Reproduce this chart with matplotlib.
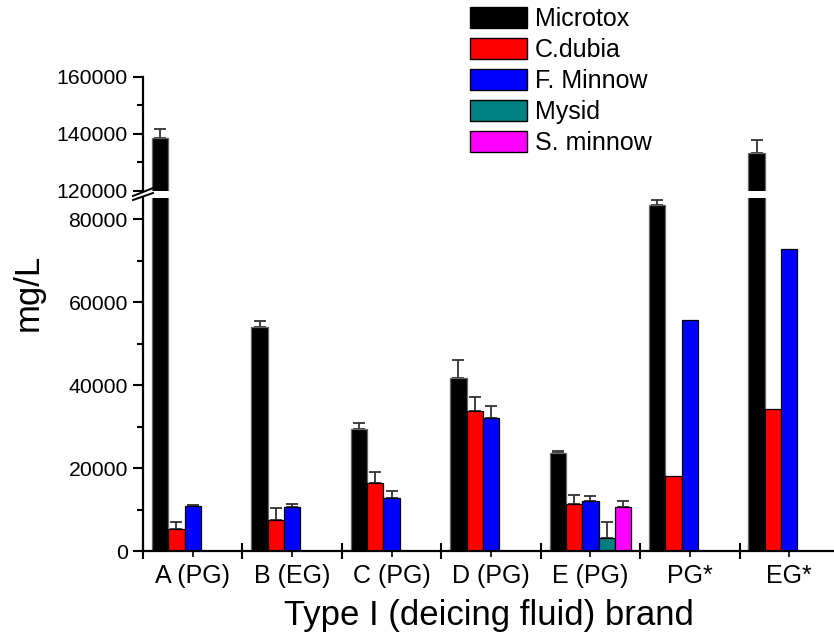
import numpy as np
import matplotlib
matplotlib.use("Agg")
import matplotlib.pyplot as plt
from matplotlib.patches import Patch
from matplotlib.lines import Line2D

plt.rcParams['font.family'] = ['Liberation Sans', 'DejaVu Sans']

nan = np.nan
categories = ['A (PG)', 'B (EG)', 'C (PG)', 'D (PG)', 'E (PG)', 'PG*', 'EG*']
series = ['Microtox', 'C.dubia', 'F. Minnow', 'Mysid', 'S. minnow']
colors = ['black', '#ff0000', '#0000ff', '#008080', '#ff00ff']

microtox = [138400, 54000, 29400, 41700, 23700, 83500, 133200]
microtox_err = [3400, 1400, 1400, 4300, 400, 1150, 4800]
cdubia = [5300, 7500, 16400, 33700, 11250, 18150, 34200]
cdubia_err = [1750, 2950, 2700, 3500, 2250, 0, 0]
fminnow = [10900, 10700, 12850, 32050, 12000, 55700, 72700]
fminnow_err = [250, 700, 1700, 2950, 1350, 0, 0]
mysid = [nan, nan, nan, nan, 3060, nan, nan]
mysid_err = [0, 0, 0, 0, 4000, 0, 0]
sminnow = [nan, nan, nan, nan, 10600, nan, nan]
sminnow_err = [0, 0, 0, 0, 1400, 0, 0]

values = [microtox, cdubia, fminnow, mysid, sminnow]
errors = [microtox_err, cdubia_err, fminnow_err, mysid_err, sminnow_err]

fig = plt.figure(figsize=(8.34, 6.4), dpi=100)
ax_lo = fig.add_axes([0.1715, 0.139, 0.8285, 0.551])
ax_hi = fig.add_axes([0.1715, 0.7016, 0.8285, 0.1786])

x = np.arange(len(categories))
w = 0.164

for ax in (ax_lo, ax_hi):
    for i, (vals, errs) in enumerate(zip(values, errors)):
        pos = x + (i - 2) * w
        ec = '#666666' if i == 0 else 'black'
        ax.bar(pos, vals, width=w, color=colors[i], edgecolor=ec, linewidth=0.9, zorder=2)
        v = np.array(vals, dtype=float)
        e = np.array(errs, dtype=float)
        m = (~np.isnan(v)) & (e > 0)
        ax.errorbar(pos[m], v[m], yerr=[np.zeros(m.sum()), e[m]], fmt='none',
                    ecolor='#333333', elinewidth=1.3, capsize=4.5, capthick=1.3, zorder=1)
    ax.set_xlim(-0.5, 6.45)
    for s in ['top', 'right']:
        ax.spines[s].set_visible(False)
    ax.spines['left'].set_linewidth(1.6)
    ax.spines['bottom'].set_linewidth(1.6)
    ax.tick_params(axis='y', which='major', length=7, width=1.5, labelsize=15.3, pad=4)
    ax.tick_params(axis='y', which='minor', length=4, width=1.5)

ax_lo.set_ylim(0, 85000)
ax_lo.set_yticks(np.arange(0, 80001, 20000))
ax_lo.set_yticks(np.arange(10000, 80001, 20000), minor=True)
ax_lo.set_xticks(np.arange(-0.5, 6.0, 1))
ax_lo.set_xticklabels([])
ax_lo.set_xticks(x, categories, minor=True)
ax_lo.tick_params(axis='x', which='major', direction='inout', length=12, width=1.5)
ax_lo.tick_params(axis='x', which='minor', direction='out', length=4, width=1.2, labelsize=18, pad=5)

ax_hi.set_ylim(120000, 160000)
ax_hi.set_yticks([120000, 140000, 160000])
ax_hi.set_yticks([130000, 150000], minor=True)
ax_hi.spines['bottom'].set_visible(False)
ax_hi.set_xticks([])
ax_hi.set_xticks([], minor=True)

# break marks on the y axis
for y0, y1 in [(196, 188), (200, 193)]:
    fig.add_artist(Line2D([133 / 834, 153 / 834], [1 - y0 / 640, 1 - y1 / 640],
                          color='black', lw=1.4, transform=fig.transFigure))

fig.text(28 / 834, 1 - 292 / 640, 'mg/L', rotation=90, ha='center', va='center', fontsize=25)
fig.text(489 / 834, 1 - 616 / 640, 'Type I (deicing fluid) brand', ha='center', va='center', fontsize=25)

handles = [Patch(facecolor=c, edgecolor='black', linewidth=1) for c in colors]
fig.legend(handles, series, loc='upper left', bbox_to_anchor=(470 / 834, 1 - 7 / 640),
           frameon=False, fontsize=18, handlelength=2.28, handleheight=0.88,
           handletextpad=0.32, labelspacing=0.28, borderpad=0, borderaxespad=0)

fig.savefig('out.png', dpi=100)
